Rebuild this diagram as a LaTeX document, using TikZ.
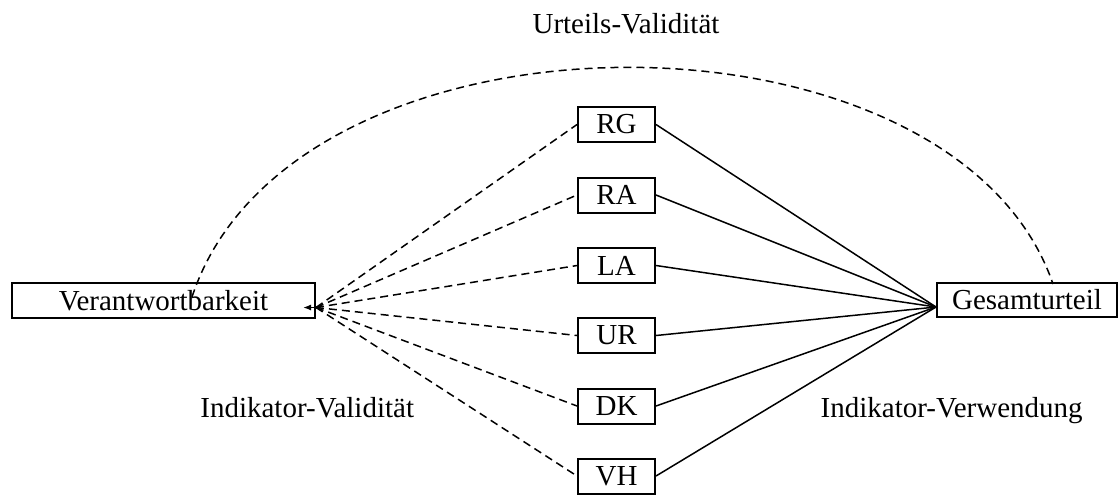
\documentclass[tikz,border=0pt]{standalone}
\usepackage{fontspec}
\setmainfont{Liberation Serif}
\usetikzlibrary{arrows.meta}

\begin{document}
\begin{tikzpicture}[x=0.5pt,y=-0.5pt,font=\fontsize{14.5}{17}\selectfont]
  \tikzstyle{box}=[draw, line width=1pt, inner sep=0pt, minimum width=38.5pt, minimum height=17.5pt]
  \tikzstyle{note}=[inner sep=0pt]
  \tikzstyle{validline}=[line width=0.75pt, dash pattern=on 4pt off 2.5pt]
  \tikzstyle{useline}=[line width=0.75pt]

  \path[use as bounding box] (0,0) rectangle (1118,500);

  \node[box, minimum width=151.5pt] (ver) at (163.5,300.5) {Verantwortbarkeit};
  \node[box, minimum width=90pt, minimum height=17pt] (ges) at (1027,300) {Gesamturteil};

  \coordinate (vjoin) at ([yshift=-3.5pt]ver.east);
  \coordinate (gjoin) at ([yshift=-3.5pt]ges.west);
  \coordinate (vtip) at ([xshift=-6.5pt]vjoin);

  \foreach \y/\n in {124.5/RG,195/RA,265.5/LA,335.5/UR,406/DK,476/VH} {
    \node[box] (\n) at (616.5,\y) {\n};
    \draw[validline] (vjoin) -- (\n.west);
    \draw[useline] (\n.east) -- (gjoin);
  }
  \draw[useline, -{Latex[length=4pt,width=3pt]}] (vjoin) -- (vtip);

  % Urteils-Validitaet
  \coordinate (vtop) at (192,297);
  \coordinate (gtop) at (1053,284);
  \draw[validline] (vtop) .. controls (292,-7) and (953,-7) .. (gtop);

  \node[note, anchor=base] (uv) at (626,33) {Urteils-Validität};
  \node[note, anchor=base west] (iv) at (200,417) {Indikator-Validität};
  \node[note, anchor=base east] (iw) at (1083,417) {Indikator-Verwendung};
\end{tikzpicture}
\end{document}
